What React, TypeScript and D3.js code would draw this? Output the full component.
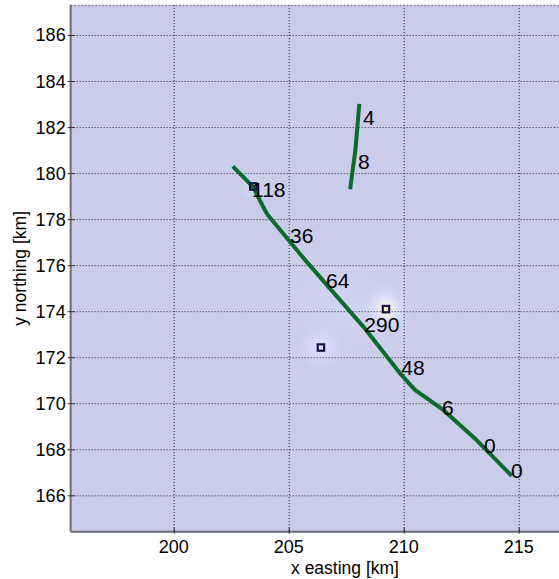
import React from 'react';
import * as d3 from 'd3';

// ---- data ----
const xTicks = [200, 205, 210, 215];
const yTicks = [166, 168, 170, 172, 174, 176, 178, 180, 182, 184, 186];
const xLim = [195.52, 217.5];
const yLim = [164.42, 187.3];

const mainLineX = [202.57, 203.45, 203.97, 204.1, 205.71, 208.24, 209.84, 210.49, 211.72, 213.17, 214.7];
const mainLineY = [180.29, 179.4, 178.38, 178.17, 176.23, 173.33, 171.3, 170.58, 169.71, 168.4, 166.84];

const shortLineX = [208.07, 207.9, 207.67];
const shortLineY = [183.01, 181.0, 179.3];

const markerX = [203.46, 206.4, 209.23];
const markerY = [179.42, 172.42, 174.09];

const labelText = ['4', '8', '118', '36', '64', '290', '48', '6', '0', '0'];
const labelX = [208.27, 208.06, 203.45, 205.1, 206.67, 208.33, 209.94, 211.71, 213.53, 214.71];
const labelY = [182.43, 180.51, 179.3, 177.3, 175.34, 173.43, 171.56, 169.82, 168.17, 167.08];

const W = 559;
const H = 579;
const FONT = '"Liberation Sans", Arial, Helvetica, sans-serif';

export default function App() {
  const x = d3.scaleLinear().domain([200, 215]).range([173.7, 518.7]);
  const y = d3.scaleLinear().domain([166, 186]).range([495.3, 35]);

  const left = x(xLim[0]);
  const right = x(xLim[1]);
  const top = y(yLim[1]);
  const bottom = y(yLim[0]);

  const lineGen = d3
    .line<[number, number]>()
    .x((d) => x(d[0]))
    .y((d) => y(d[1]));
  const mainPath = lineGen(mainLineX.map((v, i) => [v, mainLineY[i]] as [number, number]));
  const shortPath = lineGen(shortLineX.map((v, i) => [v, shortLineY[i]] as [number, number]));

  return (
    <div style={{ position: 'absolute', left: 0, top: 0 }}>
      <svg width={W} height={H} style={{ display: 'block', background: '#fff' }} fontFamily={FONT}>
        <defs>
          <radialGradient id="glowHot">
            <stop offset="0%" stopColor="#fff4c0" stopOpacity={1} />
            <stop offset="15%" stopColor="#f8f0d8" stopOpacity={0.95} />
            <stop offset="35%" stopColor="#e4e6ff" stopOpacity={0.85} />
            <stop offset="65%" stopColor="#d6d8fa" stopOpacity={0.45} />
            <stop offset="100%" stopColor="#cdcdea" stopOpacity={0} />
          </radialGradient>
          <radialGradient id="glowBlue">
            <stop offset="0%" stopColor="#dfe2ff" stopOpacity={1} />
            <stop offset="45%" stopColor="#d8dafc" stopOpacity={0.7} />
            <stop offset="100%" stopColor="#cdcdea" stopOpacity={0} />
          </radialGradient>
          <radialGradient id="glowWide">
            <stop offset="0%" stopColor="#d6d6f6" stopOpacity={0.7} />
            <stop offset="100%" stopColor="#cdcdea" stopOpacity={0} />
          </radialGradient>
          <clipPath id="plotClip">
            <rect x={left} y={top} width={right - left} height={bottom - top} />
          </clipPath>
        </defs>

        {/* plot background */}
        <rect x={left} y={top} width={right - left} height={bottom - top} fill="#cbcce9" />

        <g clipPath="url(#plotClip)">
          <ellipse cx={x(207.2)} cy={y(174.2)} rx={110} ry={110} fill="url(#glowWide)" />
          <circle cx={x(markerX[1])} cy={y(markerY[1])} r={26} fill="url(#glowBlue)" />
          <circle cx={x(markerX[0])} cy={y(markerY[0])} r={20} fill="url(#glowBlue)" opacity={0.5} />
          <circle cx={x(markerX[2])} cy={y(markerY[2])} r={30} fill="url(#glowHot)" />
        </g>

        {/* grid */}
        <g stroke="#1c1c34" strokeWidth={1} strokeDasharray="1,2" clipPath="url(#plotClip)">
          {xTicks.map((t) => (
            <line key={'gx' + t} x1={x(t) + 0.5} x2={x(t) + 0.5} y1={top} y2={bottom} />
          ))}
          {yTicks.map((t) => (
            <line key={'gy' + t} x1={left} x2={right} y1={y(t) + 0.5} y2={y(t) + 0.5} />
          ))}
        </g>

        {/* top border dotted */}
        <line x1={left} x2={right} y1={top + 0.5} y2={top + 0.5} stroke="#8a8a9a" strokeWidth={1.5} strokeDasharray="2,1.5" />

        {/* axes */}
        <line x1={left} x2={left} y1={top} y2={bottom} stroke="#6c6c78" strokeWidth={2} />
        <line x1={left} x2={right} y1={bottom} y2={bottom} stroke="#6c6c78" strokeWidth={2} />
        {yTicks.map((t) => (
          <line key={'ty' + t} x1={left - 3} x2={left + 4} y1={y(t) + 0.5} y2={y(t) + 0.5} stroke="#333" strokeWidth={1} />
        ))}
        {xTicks.map((t) => (
          <line key={'tx' + t} x1={x(t) + 0.5} x2={x(t) + 0.5} y1={bottom - 4} y2={bottom + 2} stroke="#222" strokeWidth={1} />
        ))}

        {/* tick labels */}
        <g fontSize={18} fill="#000">
          {yTicks.map((t) => (
            <text key={'ly' + t} x={left - 5} y={y(t)} dy="0.36em" textAnchor="end">
              {t}
            </text>
          ))}
          {xTicks.map((t) => (
            <text key={'lx' + t} x={x(t)} y={553} textAnchor="middle">
              {t}
            </text>
          ))}
        </g>

        {/* axis titles */}
        <text x={345} y={574} textAnchor="middle" fontSize={17.5} fill="#000">
          x easting [km]
        </text>
        <text
          transform={`translate(26, ${(top + bottom) / 2}) rotate(-90)`}
          textAnchor="middle"
          fontSize={17.5}
          fill="#000"
        >
          y northing [km]
        </text>

        {/* lines */}
        <g clipPath="url(#plotClip)">
          <path d={mainPath || ''} fill="none" stroke="#0a6b2c" strokeWidth={4} strokeLinejoin="round" />
          <path d={shortPath || ''} fill="none" stroke="#0a6b2c" strokeWidth={4} strokeLinejoin="round" />
        </g>

        {/* markers */}
        {markerX.map((mx, i) => (
          <rect
            key={'m' + i}
            x={x(mx) - 3.2}
            y={y(markerY[i]) - 3.2}
            width={6.4}
            height={6.4}
            fill={i === 2 ? '#f4eec0' : 'none'}
            stroke="#141440"
            strokeWidth={2.2}
          />
        ))}

        {/* labels */}
        <g fontSize={21} fill="#000">
          {labelText.map((t, i) => (
            <text key={'t' + i} x={x(labelX[i]) - 1} y={y(labelY[i])} dy="0.36em">
              {t}
            </text>
          ))}
        </g>
      </svg>
    </div>
  );
}
